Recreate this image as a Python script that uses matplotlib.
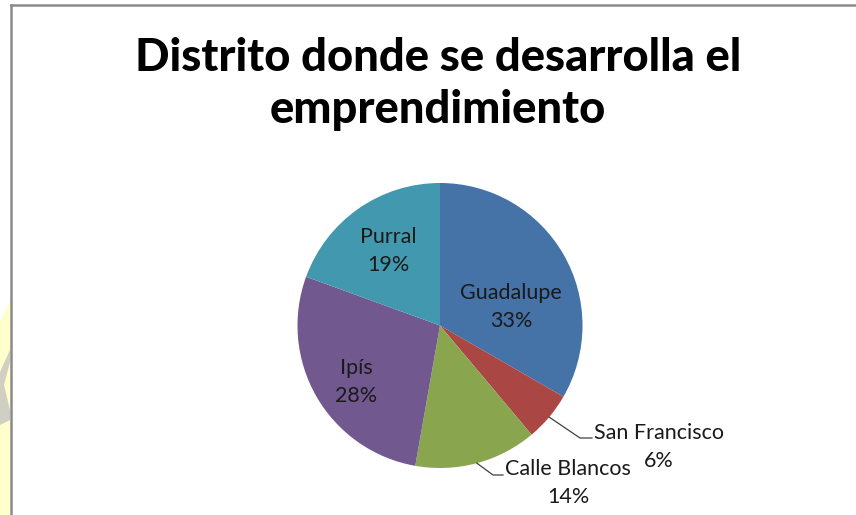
import matplotlib
matplotlib.use("Agg")
import matplotlib.pyplot as plt
from matplotlib.patches import Polygon
from matplotlib.lines import Line2D
import numpy as np

# ---- data ----
title = "Distrito donde se desarrolla el\nemprendimiento"
categories = ["Guadalupe", "San Francisco", "Calle Blancos", "Ipís", "Purral"]
counts = [12, 2, 5, 10, 7]
colors = ["#4572A7", "#AA4643", "#89A54E", "#71588F", "#4198AF"]

W, H, DPI = 856, 515, 100
fig = plt.figure(figsize=(W / DPI, H / DPI), dpi=DPI)
fig.patch.set_facecolor("white")

# pie geometry in pixels
cx, cy, R = 440.0, 325.5, 142.5
ax = fig.add_axes([0, 0, 1, 1])

wedges, _ = ax.pie(counts, colors=colors, startangle=90, counterclock=False,
                   radius=1.0, center=(0, 0), frame=True,
                   wedgeprops=dict(linewidth=0))
ax.set_xlim(-cx / R, (W - cx) / R)
ax.set_ylim((cy - H) / R, cy / R)
ax.set_aspect("auto")
ax.axis("off")

total = sum(counts)
pcts = [f"{100 * c / total:.0f}%" for c in counts]

# label layout (data coords, radius 1 pie)
inside_pos = {0: (0.50, 0.13), 4: (-0.36, 0.52), 3: (-0.59, -0.40)}
outside_pos = {1: (1.535, -0.855), 2: (0.90, -1.105)}
leader_elbow = {1: ((580 - cx) / R, (cy - 438) / R, (592 - cx) / R),
                2: ((493 - cx) / R, (cy - 475) / R, (503 - cx) / R)}

lab_font = dict(family=["Lato", "DejaVu Sans"], fontsize=15.5, color="#1a1a1a")
for i, w in enumerate(wedges):
    txt = f"{categories[i]}\n{pcts[i]}"
    if i in inside_pos:
        x, y = inside_pos[i]
        ax.text(x, y, txt, ha="center", va="center", linespacing=1.5, **lab_font)
    else:
        x, y = outside_pos[i]
        ax.text(x, y, txt, ha="center", va="center", linespacing=1.5, **lab_font)
        th = np.deg2rad((w.theta1 + w.theta2) / 2)
        ex, ey, endx = leader_elbow[i]
        ax.add_line(Line2D([np.cos(th), ex, endx], [np.sin(th), ey, ey],
                           color="#404040", lw=0.9))

# title
t = fig.text(438 / W, 1 - 84 / H, title, ha="center", va="center",
             fontsize=30, fontweight="black", family=["Lato", "DejaVu Sans"],
             linespacing=1.3, color="black")
fig.canvas.draw()
r = fig.canvas.get_renderer()
# fit first line width to ~605 px
t1 = fig.text(0, 0, title.split("\n")[0], fontsize=30, fontweight="black",
              family=["Lato", "DejaVu Sans"])
wpx = t1.get_window_extent(r).width
t1.remove()
t.set_fontsize(30 * 605 / wpx)

# frame lines
fig.add_artist(Line2D([11 / W, 1], [1 - 5 / H, 1 - 5 / H], transform=fig.transFigure,
                      color="#8a8a8a", lw=1.8))
fig.add_artist(Line2D([11 / W, 11 / W], [1 - 5 / H, 0], transform=fig.transFigure,
                      color="#8a8a8a", lw=1.8))
# faint watermark at left edge
fig.add_artist(Polygon([[0, 1 - 322 / H], [10 / W, 1 - 300 / H], [10 / W, 0], [0, 0]],
                       closed=True, transform=fig.transFigure, facecolor="#FFFFCC",
                       edgecolor="none", zorder=0))
fig.add_artist(Polygon([[10 / W, 1 - 350 / H], [10 / W, 1 - 362 / H], [4 / W, 1 - 385 / H],
                        [10 / W, 1 - 410 / H], [10 / W, 1 - 420 / H], [0, 1 - 425 / H],
                        [0, 1 - 372 / H]],
                       closed=True, transform=fig.transFigure, facecolor="#CFCFC4",
                       edgecolor="none", zorder=0.5))

fig.savefig("out.png", dpi=DPI)
